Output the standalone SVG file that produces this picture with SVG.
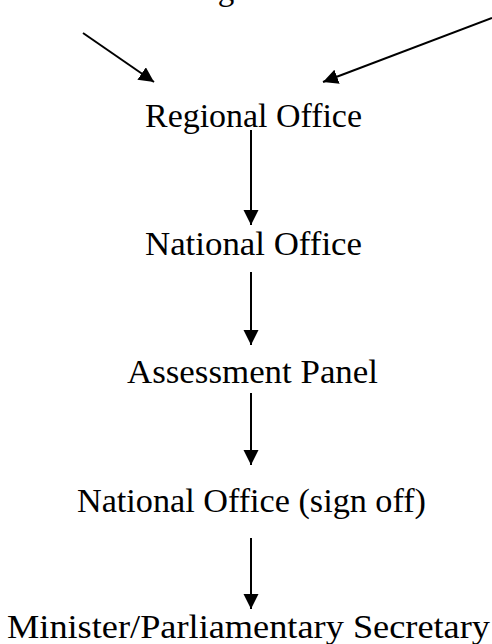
<svg xmlns="http://www.w3.org/2000/svg" width="492" height="644" viewBox="0 0 492 644">
<style>
.lbl{font-family:"Liberation Serif","Times New Roman",serif;font-size:33px;fill:#000;text-anchor:middle}
.conn{stroke:#000;stroke-width:2;fill:none}
</style>
<defs>
<marker id="ah" markerUnits="userSpaceOnUse" markerWidth="16" markerHeight="16" refX="15" refY="7.5" orient="auto">
<path d="M0,0 L15,7.5 L0,15 z" fill="#000"/>
</marker>
</defs>
<rect width="492" height="644" fill="#fff"/>
<g id="top"><text class="lbl" x="226" y="0">g</text></g>
<g id="regional"><text class="lbl" x="253.5" y="127" textLength="217" lengthAdjust="spacingAndGlyphs">Regional Office</text></g>
<g id="national"><text class="lbl" x="253.5" y="255" textLength="217" lengthAdjust="spacingAndGlyphs">National Office</text></g>
<g id="panel"><text class="lbl" x="252.5" y="383" textLength="251" lengthAdjust="spacingAndGlyphs">Assessment Panel</text></g>
<g id="signoff"><text class="lbl" x="251.5" y="512" textLength="349" lengthAdjust="spacingAndGlyphs">National Office (sign off)</text></g>
<g id="minister"><text class="lbl" x="248.5" y="638" textLength="483" lengthAdjust="spacingAndGlyphs">Minister/Parliamentary Secretary</text></g>
<g id="connectors">
<line class="conn" x1="83" y1="33" x2="154" y2="82" marker-end="url(#ah)"/>
<line class="conn" x1="492" y1="18" x2="323" y2="82" marker-end="url(#ah)"/>
<line class="conn" x1="251" y1="130" x2="251" y2="225" marker-end="url(#ah)"/>
<line class="conn" x1="251" y1="272" x2="251" y2="345" marker-end="url(#ah)"/>
<line class="conn" x1="251" y1="393" x2="251" y2="465" marker-end="url(#ah)"/>
<line class="conn" x1="251" y1="538" x2="251" y2="609" marker-end="url(#ah)"/>
</g>
</svg>
